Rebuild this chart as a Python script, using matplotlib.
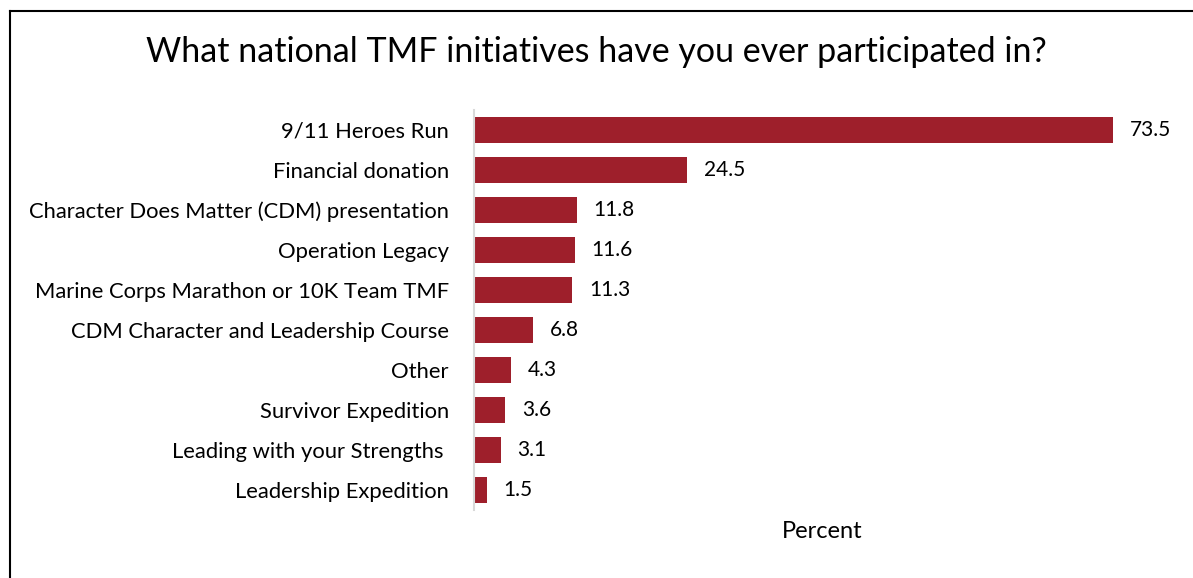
import matplotlib.pyplot as plt
from matplotlib.lines import Line2D

categories = [
    "9/11 Heroes Run",
    "Financial donation",
    "Character Does Matter (CDM) presentation",
    "Operation Legacy",
    "Marine Corps Marathon or 10K Team TMF",
    "CDM Character and Leadership Course",
    "Other",
    "Survivor Expedition",
    "Leading with your Strengths ",
    "Leadership Expedition",
]
percent = [73.5, 24.5, 11.8, 11.6, 11.3, 6.8, 4.3, 3.6, 3.1, 1.5]

plt.rcParams['font.family'] = ['Lato', 'DejaVu Sans']

fig = plt.figure(figsize=(11.93, 5.78), dpi=100)
ax = fig.add_axes([0.3973, 0.1176, 0.5834, 0.6921])

pos = list(range(len(categories)))
bars = ax.barh(pos, percent, height=0.67, color='#9E1F2B')
ax.bar_label(bars, labels=[f"{v:.1f}" for v in percent], padding=12, fontsize=15)

ax.set_xlim(0, 80)
ax.set_ylim(len(categories) - 0.5, -0.5)
ax.set_yticks(pos)
ax.set_yticklabels(categories, fontsize=15.8)
ax.tick_params(axis='y', length=0, pad=18)
ax.set_xticks([])
for s in ['top', 'right', 'bottom']:
    ax.spines[s].set_visible(False)
ax.spines['left'].set_color('#D9D9D9')
ax.spines['left'].set_linewidth(1.5)
ax.set_xlabel("Percent", fontsize=17, labelpad=8)

fig.text(0.5, 1 - 52 / 578, "What national TMF initiatives have you ever participated in?",
         ha='center', va='center', fontsize=24.5)

# outer frame (left and top edges visible)
fig.add_artist(Line2D([10 / 1193, 10 / 1193], [0, 1 - 11 / 578], transform=fig.transFigure,
                      color='black', lw=1.5))
fig.add_artist(Line2D([10 / 1193, 1], [1 - 11 / 578, 1 - 11 / 578], transform=fig.transFigure,
                      color='black', lw=1.5))

fig.savefig("out.png", dpi=100)
